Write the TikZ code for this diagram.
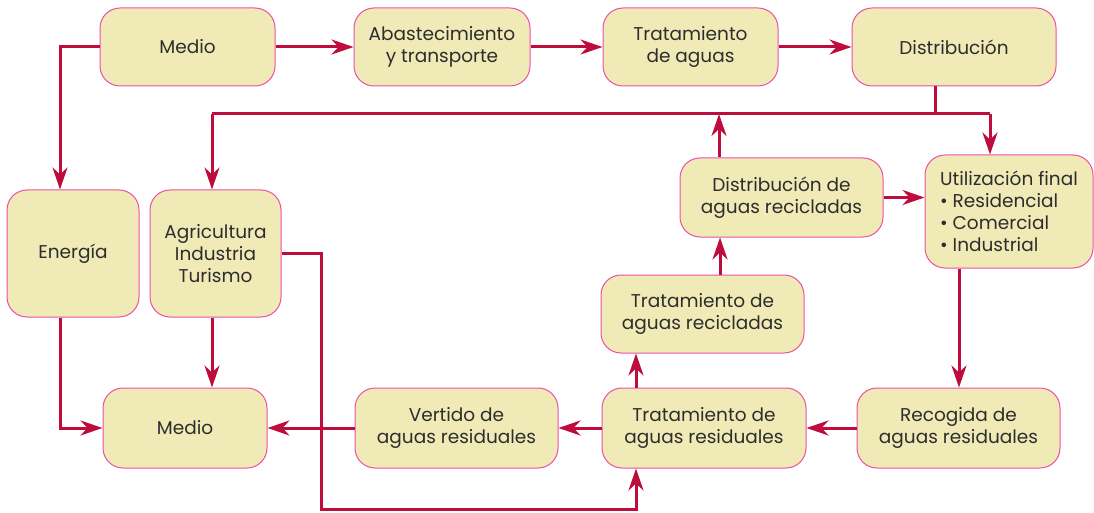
\documentclass[tikz,border=0pt]{standalone}
\usepackage{fontspec}
\setmainfont{Poppins}
\usetikzlibrary{arrows.meta}
\definecolor{boxfill}{RGB}{240,234,183}
\definecolor{boxline}{RGB}{236,80,165}
\definecolor{arrowc}{RGB}{190,12,60}
\definecolor{txt}{RGB}{45,45,45}
\begin{document}
\begin{tikzpicture}[x=1pt,y=-1pt,
  box/.style={draw=boxline, line width=1pt, fill=boxfill, rounded corners=20pt,
    align=center, inner sep=0pt, text=txt,
    font=\fontsize{18.5}{22}\selectfont},
  conn/.style={draw=arrowc, line width=3pt},
  arr/.style={conn, -{Stealth[length=22pt,width=15pt,inset=7pt]}}]
\useasboundingbox (0,0) rectangle (1094,513);
\node[box, minimum width=175pt, minimum height=78pt] (medio1) at (187.5,47) {Medio};
\node[box, minimum width=176pt, minimum height=78pt] (abast) at (442,47) {Abastecimiento\\y transporte};
\node[box, minimum width=175pt, minimum height=78pt] (trat) at (690.5,47) {Tratamiento\\de aguas};
\node[box, minimum width=204pt, minimum height=78pt] (dist) at (954,47) {Distribución};
\node[box, minimum width=132pt, minimum height=127pt] (energia) at (73,253.5) {Energía};
\node[box, minimum width=131pt, minimum height=127pt] (agri) at (215.5,253.5) {Agricultura\\Industria\\Turismo};
\node[box, minimum width=203pt, minimum height=79pt] (distrec) at (781.5,197.5) {Distribución de\\aguas recicladas};
\node[box, minimum width=168pt, minimum height=113pt, align=left] (util) at (1009,211.5) {Utilización final\\• Residencial\\• Comercial\\• Industrial};
\node[box, minimum width=203pt, minimum height=78pt] (tratrec) at (702.5,314) {Tratamiento de\\aguas recicladas};
\node[box, minimum width=204pt, minimum height=80pt] (tratres) at (704,428) {Tratamiento de\\aguas residuales};
\node[box, minimum width=203pt, minimum height=80pt] (recog) at (958.5,428) {Recogida de\\aguas residuales};
\node[box, minimum width=164pt, minimum height=80pt] (medio2) at (185,428) {Medio};
\node[box, minimum width=203pt, minimum height=80pt] (vertido) at (456.5,428) {Vertido de\\aguas residuales};
% helper coordinates
\coordinate (busL) at (212,114);
\coordinate (busR) at (990,114);
\coordinate (xE) at (60,0);
\coordinate (xD) at (935,0);
\coordinate (xDR) at (719,0);
\coordinate (xTR) at (720,0);
\coordinate (xU) at (959,0);
\coordinate (xTS) at (636,0);
\coordinate (xA) at (321,509);
% top row
\draw[arr] (medio1.east) -- (abast.west);
\draw[arr] (abast.east) -- (trat.west);
\draw[arr] (trat.east) -- (dist.west);
\draw[arr] (medio1.west) -| (energia.north -| xE);
% distribution bus
\draw[conn] (dist.south -| xD) -- (busL -| xD);
\draw[conn] (busL) -- (busR);
\draw[arr] (busL) -- (busL |- agri.north);
\draw[arr] (busR) -- (busR |- util.north);
\draw[arr] (distrec.north -| xDR) -- (busL -| xDR);
\draw[arr] (tratrec.north -| xTR) -- (distrec.south -| xTR);
\draw[arr] (distrec.east) -- (distrec.east -| util.west);
\draw[arr] (util.south -| xU) -- (recog.north -| xU);
% bottom row
\draw[arr] (recog.west) -- (tratres.east);
\draw[arr] (tratres.west) -- (vertido.east);
\draw[arr] (vertido.west) -- (medio2.east);
\draw[arr] (tratres.north -| xTS) -- (tratrec.south -| xTS);
\draw[arr] (energia.south -| xE) |- (medio2.west);
\draw[arr] (agri.south -| busL) -- (medio2.north -| busL);
\draw[arr] (agri.east) -| (xA) -| (tratres.south -| xTS);
\end{tikzpicture}
\end{document}
